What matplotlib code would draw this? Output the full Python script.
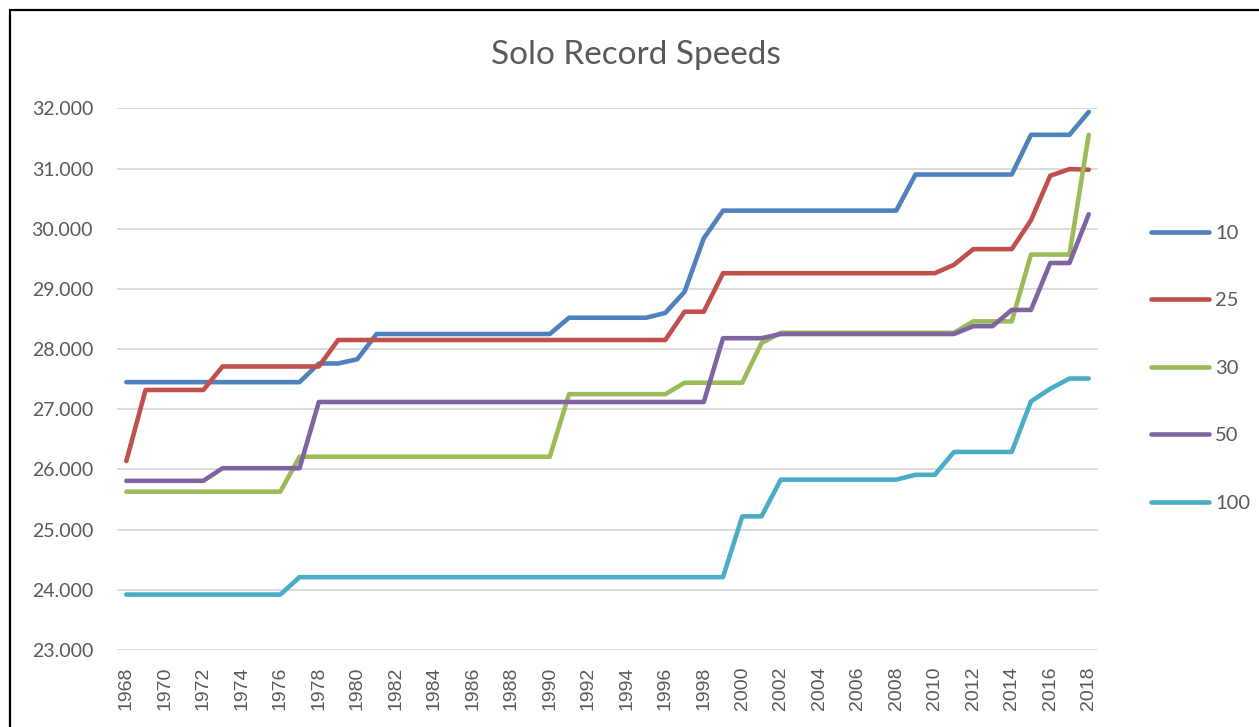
import matplotlib.pyplot as plt
from matplotlib.patches import Rectangle

# years on the category axis
years = list(range(1968, 2019))

# record speeds per distance, one value per year 1968..2018
speed_10 = [27.45, 27.45, 27.45, 27.45, 27.45, 27.45, 27.45, 27.45, 27.45, 27.45,
            27.76, 27.76, 27.83, 28.25, 28.25, 28.25, 28.25, 28.25, 28.25, 28.25,
            28.25, 28.25, 28.25, 28.52, 28.52, 28.52, 28.52, 28.52, 28.60, 28.95,
            29.84, 30.30, 30.30, 30.30, 30.30, 30.30, 30.30, 30.30, 30.30, 30.30,
            30.30, 30.90, 30.90, 30.90, 30.90, 30.90, 30.90, 31.56, 31.56, 31.56,
            31.94]
speed_25 = [26.14, 27.32, 27.32, 27.32, 27.32, 27.71, 27.71, 27.71, 27.71, 27.71,
            27.71, 28.15, 28.15, 28.15, 28.15, 28.15, 28.15, 28.15, 28.15, 28.15,
            28.15, 28.15, 28.15, 28.15, 28.15, 28.15, 28.15, 28.15, 28.15, 28.62,
            28.62, 29.26, 29.26, 29.26, 29.26, 29.26, 29.26, 29.26, 29.26, 29.26,
            29.26, 29.26, 29.26, 29.40, 29.66, 29.66, 29.66, 30.14, 30.88, 30.99,
            30.98]
speed_30 = [25.63, 25.63, 25.63, 25.63, 25.63, 25.63, 25.63, 25.63, 25.63, 26.21,
            26.21, 26.21, 26.21, 26.21, 26.21, 26.21, 26.21, 26.21, 26.21, 26.21,
            26.21, 26.21, 26.21, 27.25, 27.25, 27.25, 27.25, 27.25, 27.25, 27.44,
            27.44, 27.44, 27.44, 28.10, 28.27, 28.27, 28.27, 28.27, 28.27, 28.27,
            28.27, 28.27, 28.27, 28.27, 28.46, 28.46, 28.46, 29.57, 29.57, 29.57,
            31.56]
speed_50 = [25.81, 25.81, 25.81, 25.81, 25.81, 26.02, 26.02, 26.02, 26.02, 26.02,
            27.12, 27.12, 27.12, 27.12, 27.12, 27.12, 27.12, 27.12, 27.12, 27.12,
            27.12, 27.12, 27.12, 27.12, 27.12, 27.12, 27.12, 27.12, 27.12, 27.12,
            27.12, 28.18, 28.18, 28.18, 28.25, 28.25, 28.25, 28.25, 28.25, 28.25,
            28.25, 28.25, 28.25, 28.25, 28.38, 28.38, 28.65, 28.65, 29.43, 29.43,
            30.24]
speed_100 = [23.92, 23.92, 23.92, 23.92, 23.92, 23.92, 23.92, 23.92, 23.92, 24.21,
             24.21, 24.21, 24.21, 24.21, 24.21, 24.21, 24.21, 24.21, 24.21, 24.21,
             24.21, 24.21, 24.21, 24.21, 24.21, 24.21, 24.21, 24.21, 24.21, 24.21,
             24.21, 24.21, 25.22, 25.22, 25.83, 25.83, 25.83, 25.83, 25.83, 25.83,
             25.83, 25.91, 25.91, 26.29, 26.29, 26.29, 26.29, 27.13, 27.34, 27.51,
             27.51]

labels = ['10', '25', '30', '50', '100']
colors = ['#4F81BD', '#C0504D', '#9BBB59', '#8064A2', '#4BACC6']
series = [speed_10, speed_25, speed_30, speed_50, speed_100]

text_grey = '#595959'

fig = plt.figure(figsize=(12.59, 7.27), dpi=100)
ax = fig.add_axes([0.0927, 0.106, 0.7797, 0.745])

x = list(range(len(years)))
for vals, lab, col in zip(series, labels, colors):
    ax.plot(x, vals, color=col, lw=3.3, label=lab, solid_capstyle='round',
            solid_joinstyle='round')

ax.set_xlim(-0.5, len(years) - 0.5)
ax.set_ylim(23, 32)
ax.set_yticks(range(23, 33))
ax.set_yticklabels([f'{v:.3f}' for v in range(23, 33)], family='Lato',
                   fontsize=14, color=text_grey)
ax.set_xticks(x[::2])
ax.set_xticklabels([str(y) for y in years[::2]], rotation=90,
                   family='Liberation Sans', fontsize=14, color=text_grey)
ax.tick_params(axis='y', length=0, pad=17)
ax.tick_params(axis='x', length=0, pad=12)
ax.grid(axis='y', color='#D9D9D9', lw=1.3)
ax.set_axisbelow(True)
for s in ax.spines.values():
    s.set_visible(False)

fig.text(0.505, 0.925, 'Solo Record Speeds', ha='center', va='center',
         family='Lato', fontsize=24, color=text_grey)

leg = ax.legend(loc='center left', bbox_to_anchor=(1.035, 0.52), frameon=False,
                handlelength=2.9, handletextpad=0.3, labelspacing=2.5,
                prop={'family': 'Lato', 'size': 14.5})
for t in leg.get_texts():
    t.set_color(text_grey)

# chart-area border (clipped by the image edge on right and bottom)
fig.patches.append(Rectangle((10 / 1259, -0.1), 1.2, 1 - 10 / 727 + 0.1,
                             transform=fig.transFigure, fill=False,
                             edgecolor='black', lw=1.6))

fig.savefig('out.png', dpi=100)
